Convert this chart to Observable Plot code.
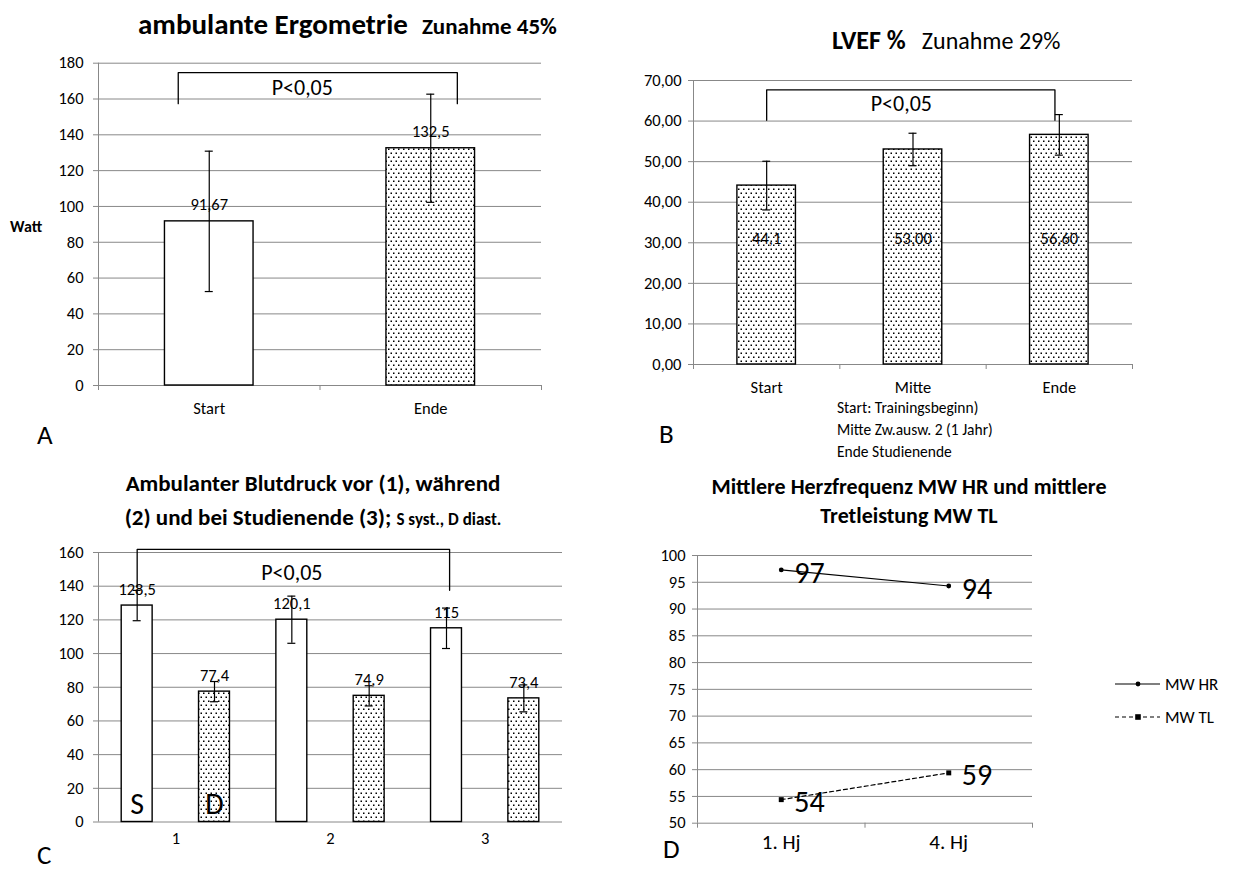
<!DOCTYPE html>
<html><head><meta charset="utf-8">
<script src="https://cdn.jsdelivr.net/npm/d3@7"></script>
<script src="https://cdn.jsdelivr.net/npm/@observablehq/plot@0.6"></script>
<style>
body{margin:0;background:#fff;}
#fig{position:relative;width:1235px;height:870px;overflow:hidden;background:#fff;}
#overlay{position:absolute;left:0;top:0;pointer-events:none;}
</style></head><body>
<svg width="0" height="0" style="position:absolute">
 <defs>
  <pattern id="dots" width="5" height="8" patternUnits="userSpaceOnUse">
   <rect width="5" height="8" fill="white"/>
   <rect x="0.5" y="0.5" width="1.5" height="1.5" fill="black"/>
   <rect x="3" y="4.5" width="1.5" height="1.5" fill="black"/>
  </pattern>
 </defs>
</svg>
<div id="fig"></div>
<script>
// ---------- data ----------
// Panel A: ambulante Ergometrie (Watt)
const catA = ["Start", "Ende"];
const valA = [91.67, 132.5];
const errA = [39.2, 30.2];
const lblA = ["91,67", "132,5"];
const ticksA = [0, 20, 40, 60, 80, 100, 120, 140, 160, 180];
const bracketA = {from: 0.36, to: 1.62, top: 174.7, b1: 157.4, b2: 157.4, px: 0.92, py: 166, text: "P<0,05"};

// Panel B: LVEF %
const catB = ["Start", "Mitte", "Ende"];
const valB = [44.1, 53.0, 56.6];
const errB = [6.0, 4.0, 5.0];
const lblB = ["44,1", "53,00", "56,60"];
const lblBLevel = 31;
const ticksB = [0, 10, 20, 30, 40, 50, 60, 70];
const bracketB = {from: 0.5, to: 2.47, top: 67.7, b1: 60.2, b2: 60.2, px: 1.42, py: 64.1, text: "P<0,05"};

// Panel C: Ambulanter Blutdruck
const catC = ["1", "2", "3"];
const sysC = [128.5, 120.1, 115];
const sysErrC = [9, 14, 12];
const sysLblC = ["128,5", "120,1", "115"];
const diaC = [77.4, 74.9, 73.4];
const diaErrC = [6, 6, 8];
const diaLblC = ["77,4", "74,9", "73,4"];
const ticksC = [0, 20, 40, 60, 80, 100, 120, 140, 160];
const bracketC = {from: 0.25, to: 2.27, top: 161.8, b1: 139.6, b2: 137.6, px: 1.25, py: 148, text: "P<0,05"};
const seriesTagC = {S: 10.4, D: 10.4};

// Panel D: Mittlere Herzfrequenz / Tretleistung
const catD = ["1. Hj", "4. Hj"];
const hrD = [97.3, 94.3];
const tlD = [54.4, 59.4];
const ticksD = [50, 55, 60, 65, 70, 75, 80, 85, 90, 95, 100];

// ---------- helpers ----------
const GRID = "#888888";
const FONT = "Carlito, Lato, 'Liberation Sans', sans-serif";
const FS = 16.5;
const fig = document.getElementById("fig");
function place(svg, left, top) {
  svg.style.position = "absolute";
  svg.style.left = left + "px";
  svg.style.top = top + "px";
  fig.appendChild(svg);
}
function frameMarks({yTicks, yFmt, yPad, xLabels, xPad, bounds, xFs = FS}) {
  const m = [
    Plot.gridY(yTicks, {stroke: GRID, strokeOpacity: 1, strokeWidth: 1}),
    Plot.ruleX([0], {stroke: GRID}),
    Plot.axisY(yTicks, {tickSize: 5, tickFormat: () => "", stroke: GRID, label: null}),
    Plot.axisY(yTicks, {tickSize: 0, tickPadding: yPad, tickFormat: yFmt, fill: "black", label: null, fontSize: FS}),
    Plot.axisX(xLabels.map((d, i) => i + 0.5), {tickSize: 0, tickPadding: xPad, tickFormat: d => xLabels[Math.round(d - 0.5)], fill: "black", label: null, fontSize: xFs})
  ];
  if (bounds) m.push(Plot.axisX(bounds, {tickSize: 5, tickFormat: () => "", stroke: GRID, label: null}));
  return m;
}
function barMarks(data, half, fillFn) {
  return [
    Plot.rectY(data, {x1: d => d.c - half, x2: d => d.c + half, y1: 0, y2: "v", fill: fillFn, stroke: "black", strokeWidth: 1.4}),
    Plot.ruleX(data, {x: "c", y1: d => d.v - d.e, y2: d => d.v + d.e, stroke: "black", strokeWidth: 1.2}),
    Plot.ruleY(data, {y: d => d.v + d.e, x1: "c", x2: "c", insetLeft: -4, insetRight: -4, stroke: "black", strokeWidth: 1.2}),
    Plot.ruleY(data, {y: d => d.v - d.e, x1: "c", x2: "c", insetLeft: -4, insetRight: -4, stroke: "black", strokeWidth: 1.2})
  ];
}
function bracketMarks(b, fs) {
  const pts = [{x: b.from, y: b.b1}, {x: b.from, y: b.top}, {x: b.to, y: b.top}, {x: b.to, y: b.b2}];
  return [
    Plot.line(pts, {x: "x", y: "y", stroke: "black", strokeWidth: 1.3, strokeLinejoin: "round"}),
    Plot.text([b], {x: "px", y: "py", text: "text", fontSize: fs})
  ];
}
const style = {fontFamily: FONT, fontSize: FS + "px", color: "black", background: "transparent", overflow: "visible"};

// ---------- Panel A ----------
const dataA = catA.map((k, i) => ({c: i + 0.5, v: valA[i], e: errA[i], lbl: lblA[i], i}));
place(Plot.plot({
  width: 600, height: 440, marginLeft: 98, marginRight: 59, marginTop: 62.7, marginBottom: 55,
  x: {domain: [0, 2]}, y: {domain: [0, 180]}, style,
  marks: [
    ...frameMarks({yTicks: ticksA, yFmt: d => String(d), yPad: 15, xLabels: catA, xPad: 17, bounds: [0, 1, 2]}),
    ...barMarks(dataA, 0.2, d => d.i === 0 ? "white" : "url(#dots)"),
    Plot.text(dataA, {x: "c", y: "v", text: "lbl", dy: -17, fontSize: FS}),
    ...bracketMarks(bracketA, 22)
  ]
}), 0, 0);

// ---------- Panel B ----------
const dataB = catB.map((k, i) => ({c: i + 0.5, v: valB[i], e: errB[i], lbl: lblB[i]}));
place(Plot.plot({
  width: 615, height: 420, marginLeft: 73, marginRight: 103, marginTop: 80, marginBottom: 56,
  x: {domain: [0, 3]}, y: {domain: [0, 70]}, style,
  marks: [
    ...frameMarks({yTicks: ticksB, yFmt: d => d.toFixed(2).replace(".", ","), yPad: 12, xLabels: catB, xPad: 17, bounds: [0, 1, 2, 3]}),
    ...barMarks(dataB, 0.2, "url(#dots)"),
    Plot.text(dataB, {x: "c", y: () => lblBLevel, text: "lbl", fontSize: FS}),
    ...bracketMarks(bracketB, 22)
  ]
}), 620, 0);

// ---------- Panel C ----------
const sysData = catC.map((k, i) => ({c: i + 0.25, v: sysC[i], e: sysErrC[i], lbl: sysLblC[i]}));
const diaData = catC.map((k, i) => ({c: i + 0.75, v: diaC[i], e: diaErrC[i], lbl: diaLblC[i]}));
place(Plot.plot({
  width: 600, height: 430, marginLeft: 98, marginRight: 38, marginTop: 112, marginBottom: 48.5,
  x: {domain: [0, 3]}, y: {domain: [0, 160]}, style,
  marks: [
    ...frameMarks({yTicks: ticksC, yFmt: d => String(d), yPad: 15, xLabels: catC, xPad: 10}),
    ...barMarks(sysData, 0.1, "white"),
    ...barMarks(diaData, 0.1, "url(#dots)"),
    Plot.text(sysData, {x: "c", y: "v", text: "lbl", dy: -16, fontSize: FS}),
    Plot.text(diaData, {x: "c", y: "v", text: "lbl", dy: -16, fontSize: FS}),
    Plot.text([sysData[0]], {x: "c", y: () => seriesTagC.S, text: () => "S", fontSize: 30}),
    Plot.text([diaData[0]], {x: "c", y: () => seriesTagC.D, text: () => "D", fontSize: 30}),
    ...bracketMarks(bracketC, 22)
  ]
}), 0, 440);

// ---------- Panel D ----------
const hrData = catD.map((k, i) => ({c: i + 0.5, v: hrD[i]}));
const tlData = catD.map((k, i) => ({c: i + 0.5, v: tlD[i]}));
const fmtD = d3.format(".0f");
place(Plot.plot({
  width: 615, height: 430, marginLeft: 77, marginRight: 203, marginTop: 115, marginBottom: 47.3,
  x: {domain: [0, 2]}, y: {domain: [50, 100]}, style,
  marks: [
    ...frameMarks({yTicks: ticksD, yFmt: d => String(d), yPad: 12, xLabels: catD, xPad: 11, bounds: [0, 1, 2], xFs: 21}),
    Plot.line(hrData, {x: "c", y: "v", stroke: "black", strokeWidth: 1.2}),
    Plot.dot(hrData, {x: "c", y: "v", r: 2.4, fill: "black"}),
    Plot.line(tlData, {x: "c", y: "v", stroke: "black", strokeWidth: 1.2, strokeDasharray: "4,3"}),
    Plot.dot(tlData, {x: "c", y: "v", r: 2.8, fill: "black", symbol: "square"}),
    Plot.text(hrData, {x: "c", y: "v", text: d => fmtD(d.v), dx: 13, dy: 3, textAnchor: "start", fontSize: 30}),
    Plot.text(tlData, {x: "c", y: "v", text: d => fmtD(d.v), dx: 13, dy: 3, textAnchor: "start", fontSize: 30})
  ]
}), 620, 440);
</script>
<script>
// ---------- titles, panel letters, captions, legend ----------
const ns = "http://www.w3.org/2000/svg";
const ov = document.createElementNS(ns, "svg");
ov.setAttribute("id", "overlay");
ov.setAttribute("width", 1235);
ov.setAttribute("height", 870);
ov.style.fontFamily = FONT;
fig.appendChild(ov);
function txt(x, y, parts, anchor = "start") {
  const t = document.createElementNS(ns, "text");
  t.setAttribute("x", x); t.setAttribute("y", y);
  t.setAttribute("text-anchor", anchor);
  for (const p of parts) {
    const s = document.createElementNS(ns, "tspan");
    s.textContent = p.t;
    s.setAttribute("font-size", p.s);
    if (p.b) s.setAttribute("font-weight", "bold");
    if (p.x !== undefined) s.setAttribute("x", p.x);
    if (p.dx !== undefined) s.setAttribute("dx", p.dx);
    t.appendChild(s);
  }
  ov.appendChild(t);
}
function el(name, attrs) {
  const e = document.createElementNS(ns, name);
  for (const k in attrs) e.setAttribute(k, attrs[k]);
  ov.appendChild(e);
}
// Panel A
txt(138, 34, [{t: "ambulante Ergometrie", s: 29, b: 1}, {t: "Zunahme 45%", s: 23, b: 1, dx: 14}]);
txt(10, 232, [{t: "Watt", s: 16, b: 1}]);
txt(37, 444, [{t: "A", s: 27}]);
// Panel B
txt(832, 49, [{t: "LVEF %", s: 26, b: 1}, {t: "Zunahme 29%", s: 24, dx: 16}]);
txt(837, 413, [{t: "Start: Trainingsbeginn)", s: 15.5}]);
txt(837, 435, [{t: "Mitte Zw.ausw. 2 (1 Jahr)", s: 15.5}]);
txt(837, 457, [{t: "Ende Studienende", s: 15.5}]);
txt(659, 443, [{t: "B", s: 27}]);
// Panel C
txt(313, 491, [{t: "Ambulanter Blutdruck vor (1), während", s: 23, b: 1}], "middle");
txt(313, 525, [{t: "(2) und bei Studienende (3); ", s: 23, b: 1}, {t: "S syst., D diast.", s: 17, b: 1}], "middle");
txt(37, 864, [{t: "C", s: 27}]);
// Panel D
txt(909, 494, [{t: "Mittlere Herzfrequenz MW HR und mittlere", s: 22, b: 1}], "middle");
txt(909, 523, [{t: "Tretleistung MW TL", s: 22, b: 1}], "middle");
txt(663, 858, [{t: "D", s: 27}]);
// Legend D
el("line", {x1: 1115, x2: 1160, y1: 684, y2: 684, stroke: "black", "stroke-width": 1.2});
el("circle", {cx: 1138, cy: 684, r: 2.4, fill: "black"});
txt(1165, 690, [{t: "MW HR", s: 17}]);
el("line", {x1: 1115, x2: 1160, y1: 717, y2: 717, stroke: "black", "stroke-width": 1.2, "stroke-dasharray": "4,3"});
el("rect", {x: 1135.2, y: 714.2, width: 5.6, height: 5.6, fill: "black"});
txt(1165, 723, [{t: "MW TL", s: 17}]);
</script>
</body></html>
